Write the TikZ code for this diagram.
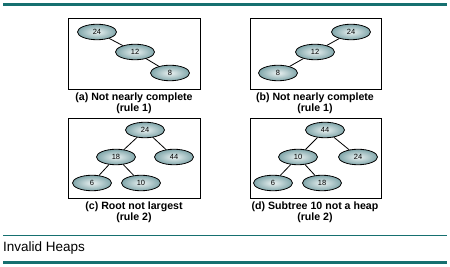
\documentclass[tikz,border=0pt]{standalone}
\usepackage{fontspec}
\setmainfont{Liberation Sans}
\usetikzlibrary{shapes.geometric}
\definecolor{teal1}{RGB}{22,112,112}
\definecolor{nodeout}{RGB}{128,166,170}
\definecolor{nodein}{RGB}{235,242,242}
\begin{document}
\begin{tikzpicture}[x=1pt,y=-1pt,
  hn/.style={ellipse, draw=black, line width=0.8pt, minimum width=39pt, minimum height=15.5pt, inner sep=0pt,
     inner color=nodein, outer color=nodeout, font=\fontsize{7.5}{8}\selectfont},
  panel/.style={draw=black, line width=0.8pt},
  captext/.style={font=\bfseries\fontsize{10.6}{9.5}\selectfont, align=center},
  edge/.style={draw=black, line width=0.8pt}]
\useasboundingbox (0,0) rectangle (450,267);
% top rule
\fill[teal1] (3,3.5) rectangle (447,6.5);
% panels
\draw[panel] (68,18) rectangle (200,89);
\draw[panel] (250,18) rectangle (381,89);
\draw[panel] (68,118) rectangle (200,198);
\draw[panel] (250,118) rectangle (381,198);
% (a)
\node[hn] (a24) at (97,32) {24};
\node[hn] (a12) at (135,52) {12};
\node[hn] (a8) at (170,73) {8};
\draw[edge] (a24) -- (a12);
\draw[edge] (a12) -- (a8);
\node[captext] (ca) at (134,103.5) {(a) Not nearly complete\\(rule 1)};
% (b)
\node[hn] (b24) at (351,32) {24};
\node[hn] (b12) at (315,52) {12};
\node[hn] (b8) at (278,73) {8};
\draw[edge] (b24) -- (b12);
\draw[edge] (b12) -- (b8);
\node[captext] (cb) at (315,103.5) {(b) Not nearly complete\\(rule 1)};
% (c)
\node[hn] (c24) at (145,130) {24};
\node[hn] (c18) at (116,157) {18};
\node[hn] (c44) at (174,157) {44};
\node[hn] (c6) at (92,183) {6};
\node[hn] (c10) at (141,183) {10};
\draw[edge] (c24) -- (c18);
\draw[edge] (c24) -- (c44);
\draw[edge] (c18) -- (c6);
\draw[edge] (c18) -- (c10);
\node[captext] (cc) at (134,212) {(c) Root not largest\\(rule 2)};
% (d)
\node[hn] (d44) at (325,130) {44};
\node[hn] (d10) at (298,157) {10};
\node[hn] (d24) at (358,157) {24};
\node[hn] (d6) at (273,183) {6};
\node[hn] (d18) at (322,183) {18};
\draw[edge] (d44) -- (d10);
\draw[edge] (d44) -- (d24);
\draw[edge] (d10) -- (d6);
\draw[edge] (d10) -- (d18);
\node[captext] (cd) at (315,212) {(d) Subtree 10 not a heap\\(rule 2)};
% bottom
\fill[teal1] (3,234.5) rectangle (447,235.5);
\node[anchor=west, inner sep=0pt, font=\fontsize{13.5}{14}\selectfont] (title) at (3,248) {Invalid Heaps};
\fill[teal1] (3,260.5) rectangle (447,263.5);
\end{tikzpicture}
\end{document}
